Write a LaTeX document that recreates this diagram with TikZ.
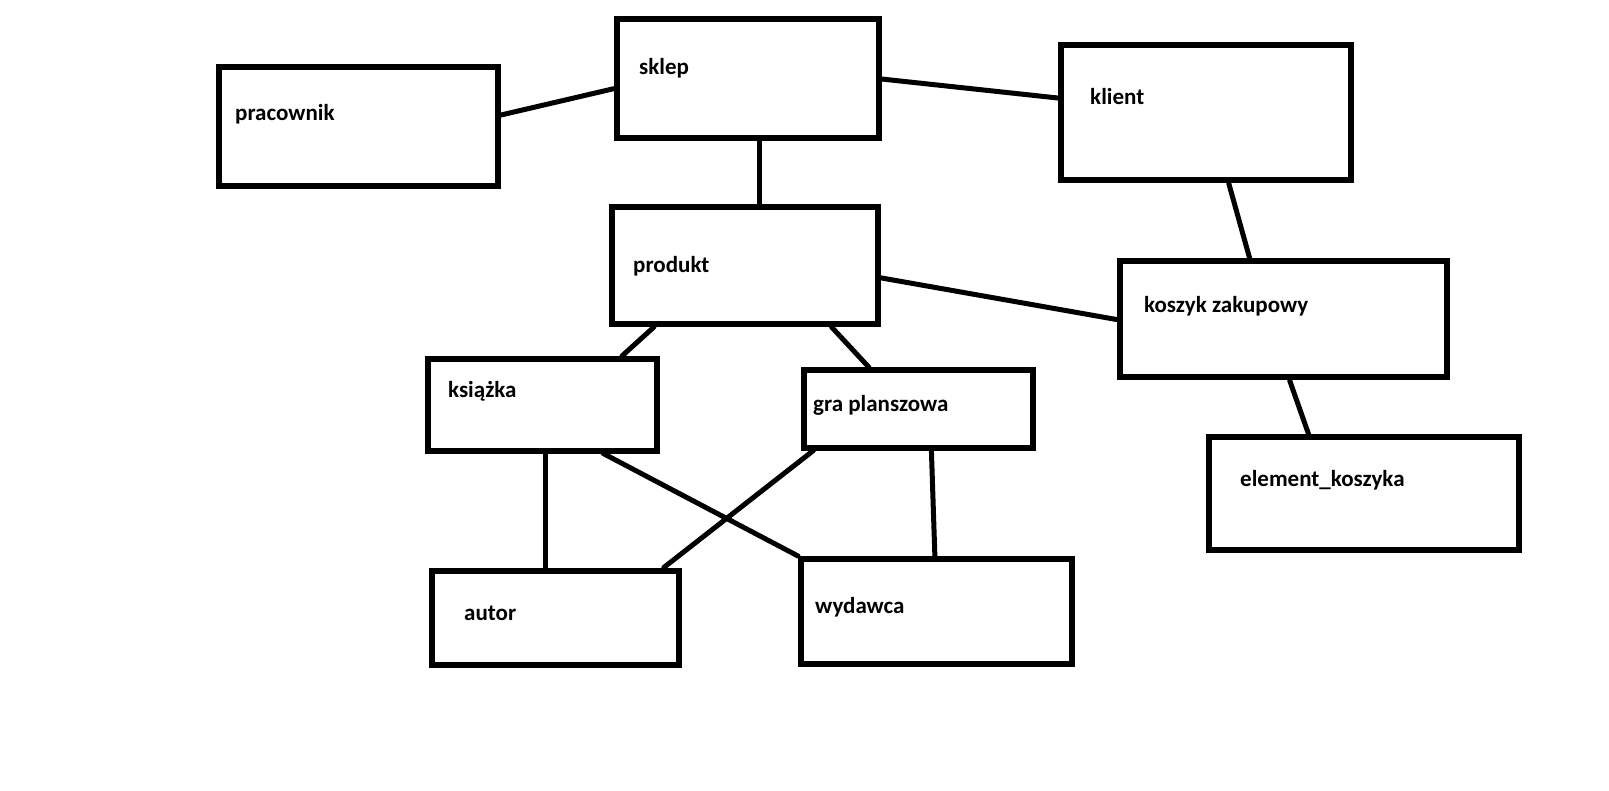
\documentclass[tikz,border=0pt]{standalone}
\usepackage{fontspec}
\setmainfont{Carlito}
\usetikzlibrary{calc}
\tikzset{
  box/.style={draw=black, line width=6pt, inner sep=0pt, rectangle},
  lbl/.style={anchor=base west, inner sep=0pt, font=\fontsize{23}{27}\selectfont\bfseries},
  conn/.style={draw=black, line width=5pt, line cap=round}
}
\begin{document}
\begin{tikzpicture}[x=1pt,y=-1pt]
\useasboundingbox[fill=white] (0,0) rectangle (1609,791);
% boxes
\node[box, minimum width=279pt, minimum height=119pt] (pracownik) at (358,127) {};
\node[box, minimum width=262pt, minimum height=119pt] (sklep) at (747.5,79) {};
\node[box, minimum width=290pt, minimum height=135.5pt] (klient) at (1206,112.75) {};
\node[box, minimum width=266pt, minimum height=117pt] (produkt) at (744.5,265.5) {};
\node[box, minimum width=327pt, minimum height=116pt] (koszyk) at (1283,319.5) {};
\node[box, minimum width=228.5pt, minimum height=91.5pt] (ksiazka) at (542.25,404.75) {};
\node[box, minimum width=229pt, minimum height=77pt] (gra) at (918,409) {};
\node[box, minimum width=310pt, minimum height=113pt] (element) at (1363.5,493.5) {};
\node[box, minimum width=246.5pt, minimum height=94.5pt] (autor) at (555.25,617.75) {};
\node[box, minimum width=270.5pt, minimum height=105pt] (wydawca) at (936.25,611.5) {};
% labels
\node[lbl] (t-pracownik) at (235,120.5) {pracownik};
\node[lbl] (t-sklep) at (639,75) {sklep};
\node[lbl] (t-klient) at (1090,104.5) {klient};
\node[lbl] (t-produkt) at (633,273) {produkt};
\node[lbl] (t-koszyk) at (1144,312.5) {koszyk zakupowy};
\node[lbl] (t-ksiazka) at (448,397.5) {książka};
\node[lbl] (t-gra) at (813,411.5) {gra planszowa};
\node[lbl] (t-element) at (1240,486) {element\_koszyka};
\node[lbl] (t-autor) at (464,620) {autor};
\node[lbl] (t-wydawca) at (815,613.5) {wydawca};
% connectors
\draw[conn] ($(pracownik.north east)!0.405!(pracownik.south east)$) -- ($(sklep.north west)!0.578!(sklep.south west)$);
\draw[conn] (sklep.east) -- ($(klient.north west)!0.396!(klient.south west)$);
\draw[conn] ($(sklep.south west)!0.544!(sklep.south east)$) coordinate (sp) -- (sp |- produkt.north);
\draw[conn] ($(produkt.north east)!0.6!(produkt.south east)$) -- (koszyk.west);
\draw[conn] ($(klient.south west)!0.577!(klient.south east)$) -- ($(koszyk.north west)!0.4!(koszyk.north east)$);
\draw[conn] ($(koszyk.south west)!0.52!(koszyk.south east)$) -- ($(element.north west)!0.326!(element.north east)$);
\draw[conn] ($(produkt.south west)!0.167!(produkt.south east)$) -- ($(ksiazka.north west)!0.84!(ksiazka.north east)$);
\draw[conn] ($(produkt.south west)!0.82!(produkt.south east)$) -- ($(gra.north west)!0.292!(gra.north east)$);
\draw[conn] ($(ksiazka.south west)!0.512!(ksiazka.south east)$) coordinate (ka) -- (ka |- autor.north);
\draw[conn] ($(ksiazka.south west)!0.76!(ksiazka.south east)$) -- (wydawca.north west);
\draw[conn] ($(gra.south west)!0.055!(gra.south east)$) -- ($(autor.north west)!0.93!(autor.north east)$);
\draw[conn] ($(gra.south west)!0.557!(gra.south east)$) -- ($(wydawca.north west)!0.495!(wydawca.north east)$);
\end{tikzpicture}
\end{document}
